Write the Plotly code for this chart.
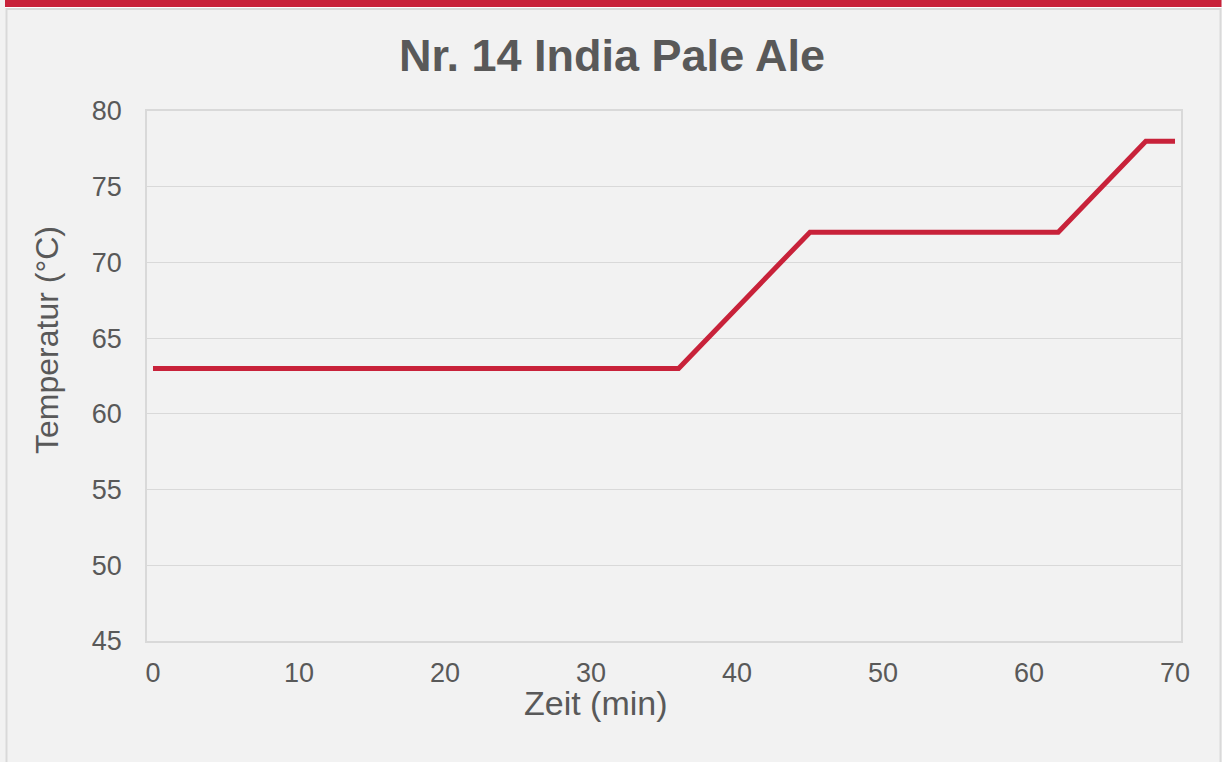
import plotly.graph_objects as go

# Data
zeit_min = [0, 36, 45, 62, 68, 70]
temperatur_c = [63, 63, 72, 72, 78, 78]
x_ticks = [0, 10, 20, 30, 40, 50, 60, 70]
y_ticks = [45, 50, 55, 60, 65, 70, 75, 80]
title_text = "Nr. 14 India Pale Ale"
x_title = "Zeit (min)"
y_title = "Temperatur (°C)"

W, H = 1224, 762
L, R, T, B = 147, 1181, 111, 641  # plot area pixel bounds

def px(xp):
    return (xp - L) / (R - L)

def py(yp):
    return (B - yp) / (B - T)

RED = "#c8223a"
GRID = "#d9d9d9"
TXT = "#595959"
FONT = "Arial, 'Liberation Sans', sans-serif"

fig = go.Figure()
fig.add_trace(go.Scatter(
    x=zeit_min, y=temperatur_c, mode="lines",
    line=dict(color=RED, width=5),
    hoverinfo="x+y", showlegend=False,
))

shapes = [
    dict(type="rect", xref="paper", yref="paper", x0=px(1222), x1=px(1226), y0=py(-2), y1=py(770),
         fillcolor="white", line=dict(width=0), layer="below"),
    dict(type="rect", xref="paper", yref="paper", x0=px(5), x1=px(1221.5), y0=py(7), y1=py(-2),
         fillcolor=RED, line=dict(width=0), layer="below"),
    dict(type="rect", xref="paper", yref="paper", x0=px(5), x1=px(1221.5), y0=py(8), y1=py(7),
         fillcolor="white", line=dict(width=0), layer="below"),
    dict(type="rect", xref="paper", yref="paper", x0=px(6.5), x1=px(1220.5), y0=py(775), y1=py(9),
         fillcolor="rgba(0,0,0,0)", line=dict(color=GRID, width=2), layer="below"),
]

annotations = [
    dict(text=x_title, xref="paper", yref="paper", x=px(596), y=py(703),
         xanchor="center", yanchor="middle", showarrow=False,
         font=dict(size=34, color=TXT, family=FONT)),
    dict(text=y_title, xref="paper", yref="paper", x=px(47), y=py(340),
         xanchor="center", yanchor="middle", showarrow=False, textangle=-90,
         font=dict(size=32, color=TXT, family=FONT)),
]

fig.update_layout(
    width=W, height=H,
    margin=dict(l=L, r=W - R, t=T, b=H - B, pad=0),
    paper_bgcolor="#f2f2f2", plot_bgcolor="#f2f2f2",
    font=dict(family=FONT, color=TXT),
    title=dict(text=f"<b>{title_text}</b>", x=0.5, xanchor="center", xref="container",
               y=1 - 55 / H, yanchor="middle", yref="container",
               font=dict(size=45, color=TXT, family=FONT)),
    shapes=shapes,
    annotations=annotations,
    xaxis=dict(
        range=[-0.41, 70.41], tickvals=x_ticks, ticktext=[str(v) for v in x_ticks],
        showgrid=False, zeroline=False, showline=True, mirror=True,
        linecolor=GRID, linewidth=1.5, ticks="", tickfont=dict(size=27, color=TXT),
        ticklabelstandoff=7, automargin=False,
    ),
    yaxis=dict(
        range=[45, 80], tickvals=y_ticks, ticktext=[str(v) for v in y_ticks],
        showgrid=True, gridcolor=GRID, gridwidth=1, zeroline=False, showline=True, mirror=True,
        linecolor=GRID, linewidth=1.5, ticks="", tickfont=dict(size=27, color=TXT),
        ticklabelstandoff=18, automargin=False,
    ),
)

fig.write_html("out.html", config={"displayModeBar": False},
               post_script=["document.body.style.margin='0';document.body.style.overflow='hidden';"])
